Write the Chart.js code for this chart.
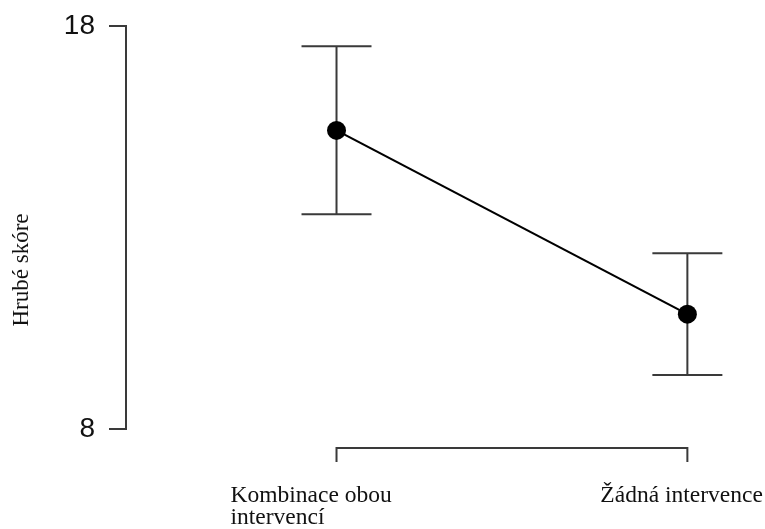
<!DOCTYPE html>
<html>
<head>
<meta charset="utf-8">
<script src="https://cdn.jsdelivr.net/npm/chart.js@4.4.1/dist/chart.umd.min.js"></script>
<style>
body { margin: 0; background: #fff; }
</style>
</head>
<body>
<canvas id="c" width="765" height="529"></canvas>
<script>
// data
var categories = [['Kombinace obou', 'intervencí'], ['Žádná intervence']];
var means = [15.41, 10.85];
var lower = [13.33, 9.34];
var upper = [17.50, 12.36];
var yTicks = [8, 18];
var yTitle = 'Hrubé skóre';

// posun popisku osy x vuci znacce
var labelShift = [-106, -87];
var axisColor = '#3a3a3a';
var serif = '"Liberation Serif", "Times New Roman", serif';

var points = [];
for (var i = 0; i < means.length; i++) {
	points.push({ x: i, y: means[i] });
}

var extras = {
	id: 'extras',
	beforeDatasetsDraw: function (chart) {
		var ctx = chart.ctx, xs = chart.scales.x, ys = chart.scales.y;
		ctx.save();
		ctx.strokeStyle = axisColor;
		ctx.lineWidth = 2;
		for (var i = 0; i < means.length; i++) {
			var px = xs.getPixelForValue(i);
			var top = ys.getPixelForValue(upper[i]);
			var bot = ys.getPixelForValue(lower[i]);
			ctx.beginPath();
			ctx.moveTo(px, top); ctx.lineTo(px, bot);
			ctx.moveTo(px - 35, top); ctx.lineTo(px + 35, top);
			ctx.moveTo(px - 35, bot); ctx.lineTo(px + 35, bot);
			ctx.stroke();
		}
		ctx.restore();
	},
	afterDraw: function (chart) {
		var ctx = chart.ctx, xs = chart.scales.x, area = chart.chartArea;
		var x0 = xs.getPixelForValue(0);
		var x1 = xs.getPixelForValue(categories.length - 1);
		var yb = area.bottom + 19;
		ctx.save();
		// osa x jen mezi prvni a posledni kategorii
		ctx.strokeStyle = axisColor;
		ctx.lineWidth = 2;
		ctx.beginPath();
		ctx.moveTo(x0, yb + 14); ctx.lineTo(x0, yb);
		ctx.lineTo(x1, yb); ctx.lineTo(x1, yb + 14);
		ctx.stroke();
		// popisky x
		ctx.fillStyle = '#111';
		ctx.font = '23.5px ' + serif;
		ctx.textAlign = 'left';
		ctx.textBaseline = 'alphabetic';
		for (var i = 0; i < categories.length; i++) {
			var lx = xs.getPixelForValue(i) + labelShift[i];
			for (var j = 0; j < categories[i].length; j++) {
				ctx.fillText(categories[i][j], lx, area.bottom + 73 + j * 22);
			}
		}
		// nazev osy y
		ctx.font = '23px ' + serif;
		ctx.textAlign = 'center';
		ctx.translate(28, 270);
		ctx.rotate(-Math.PI / 2);
		ctx.fillText(yTitle, 0, 0);
		ctx.restore();
	}
};

var chart = new Chart(document.getElementById('c'), {
	type: 'line',
	data: {
		datasets: [{
			data: points,
			borderColor: '#000',
			backgroundColor: '#000',
			borderWidth: 2.2,
			pointRadius: 9.5,
			pointBackgroundColor: '#000',
			pointBorderWidth: 0,
			tension: 0
		}]
	},
	options: {
		responsive: false,
		animation: false,
		events: [],
		layout: { padding: { top: 26, right: 25, left: 0, bottom: 0 } },
		plugins: {
			legend: { display: false },
			tooltip: { enabled: false }
		},
		scales: {
			x: {
				type: 'linear',
				min: -0.6,
				max: 1.15,
				grid: { display: false },
				border: { display: false },
				ticks: { display: false },
				afterFit: function (s) { s.height = 100; }
			},
			y: {
				min: 8,
				max: 18,
				afterBuildTicks: function (s) {
					s.ticks = yTicks.map(function (v) { return { value: v }; });
				},
				afterFit: function (s) { s.width = 126; },
				border: { display: true, color: axisColor, width: 2 },
				grid: {
					drawOnChartArea: false,
					drawTicks: true,
					tickLength: 17,
					tickColor: axisColor,
					lineWidth: 2
				},
				ticks: {
					padding: 14,
					color: '#111',
					font: { family: '"Liberation Sans", Arial, sans-serif', size: 28, lineHeight: 0.8 }
				}
			}
		}
	},
	plugins: [extras]
});
</script>
</body>
</html>
